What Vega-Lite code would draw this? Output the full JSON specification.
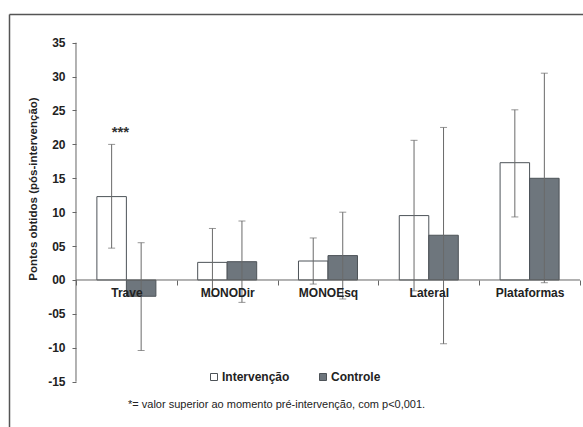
{
  "$schema": "https://vega.github.io/schema/vega-lite/v6.json",
  "width": 574,
  "height": 413,
  "autosize": {"type": "none"},
  "padding": {"left": 9, "top": 14, "right": 0, "bottom": 0},
  "config": {
    "view": {"stroke": null},
    "font": "Liberation Sans"
  },
  "resolve": {"axis": {"x": "independent", "y": "independent"}},
  "datasets": {
    "main": [
      {"cat": "Trave", "group": "Intervenção", "mean": 12.3, "lo": 4.7, "hi": 20.0},
      {"cat": "Trave", "group": "Controle", "mean": -2.4, "lo": -10.4, "hi": 5.5},
      {"cat": "MONODir", "group": "Intervenção", "mean": 2.6, "lo": -2.4, "hi": 7.6},
      {"cat": "MONODir", "group": "Controle", "mean": 2.7, "lo": -3.3, "hi": 8.7},
      {"cat": "MONOEsq", "group": "Intervenção", "mean": 2.8, "lo": -0.6, "hi": 6.2},
      {"cat": "MONOEsq", "group": "Controle", "mean": 3.6, "lo": -2.8, "hi": 10.0},
      {"cat": "Lateral", "group": "Intervenção", "mean": 9.5, "lo": -1.6, "hi": 20.6},
      {"cat": "Lateral", "group": "Controle", "mean": 6.6, "lo": -9.4, "hi": 22.5},
      {"cat": "Plataformas", "group": "Intervenção", "mean": 17.3, "lo": 9.3, "hi": 25.1},
      {"cat": "Plataformas", "group": "Controle", "mean": 15.0, "lo": -0.4, "hi": 30.5}
    ],
    "marks": [
      {"cat": "Trave", "group": "Intervenção", "hi": 20.0, "label": "***"}
    ]
  },
  "data": {"name": "main"},
  "title": {
    "text": "*= valor superior ao momento pré-intervenção, com p<0,001.",
    "orient": "bottom",
    "anchor": "start",
    "frame": "group",
    "offset": -22,
    "dx": 119,
    "baseline": "middle",
    "fontSize": 11,
    "fontWeight": "normal",
    "color": "#222222"
  },
  "layer": [
    {
      "mark": {"type": "bar", "stroke": "#4d5358", "strokeWidth": 1},
      "encoding": {
        "x": {
          "field": "cat",
          "type": "nominal",
          "sort": ["Trave", "MONODir", "MONOEsq", "Lateral", "Plataformas"],
          "scale": {
            "domain": ["Trave", "MONODir", "MONOEsq", "Lateral", "Plataformas"],
            "paddingInner": 0,
            "paddingOuter": 0.3472,
            "align": 0.957
          },
          "axis": {
            "orient": "bottom",
            "offset": -147,
            "zindex": 2,
            "title": null,
            "domain": false,
            "ticks": true,
            "tickBand": "extent",
            "tickSize": 5,
            "tickColor": "#666666",
            "labelAngle": 0,
            "labelPadding": 2,
            "labelFontSize": 12,
            "labelFontWeight": "bold",
            "labelColor": "#222222"
          }
        },
        "xOffset": {
          "field": "group",
          "type": "nominal",
          "sort": ["Intervenção", "Controle"],
          "scale": {"domain": ["Intervenção", "Controle"], "paddingInner": 0, "paddingOuter": 0.708}
        },
        "y": {
          "field": "mean",
          "type": "quantitative",
          "scale": {"domain": [-21.68, 39.23], "nice": false, "zero": false},
          "axis": {
            "orient": "left",
            "offset": -67,
            "domain": false,
            "grid": false,
            "values": [-15, -10, -5, 0, 5, 10, 15, 20, 25, 30, 35],
            "labelExpr": "datum.value == 0 ? '00' : datum.value == 5 ? '05' : datum.value == -5 ? '-05' : '' + datum.value",
            "tickSize": 4,
            "tickColor": "#666666",
            "labelPadding": 7,
            "labelFontSize": 12,
            "labelFontWeight": "bold",
            "labelColor": "#222222",
            "title": "Pontos obtidos (pós-intervenção)",
            "titleFontSize": 11.5,
            "titleFontWeight": "bold",
            "titleColor": "#222222",
            "titleX": -38,
            "titleY": 174.5,
            "titleAlign": "center",
            "titleAngle": -90,
            "titleBaseline": "bottom"
          }
        },
        "y2": {"datum": 0},
        "fill": {
          "field": "group",
          "type": "nominal",
          "scale": {"domain": ["Intervenção", "Controle"], "range": ["#ffffff", "#6e767d"]},
          "legend": {
            "title": null,
            "orient": "none",
            "direction": "horizontal",
            "legendX": 199,
            "legendY": 357,
            "symbolType": "square",
            "symbolSize": 49,
            "symbolStrokeColor": "#4d5358",
            "symbolStrokeWidth": 1,
            "labelFontSize": 12,
            "labelFontWeight": "bold",
            "labelColor": "#222222",
            "labelOffset": 2,
            "columnPadding": 27
          }
        }
      }
    },
    {
      "mark": {"type": "rule", "color": "#6a6a6a", "strokeWidth": 1},
      "encoding": {
        "x": {"field": "cat", "type": "nominal", "axis": null},
        "xOffset": {"field": "group", "type": "nominal"},
        "y": {"field": "lo", "type": "quantitative", "axis": null},
        "y2": {"field": "hi"}
      }
    },
    {
      "mark": {"type": "tick", "orient": "horizontal", "color": "#6a6a6a", "size": 7, "thickness": 1},
      "encoding": {
        "x": {"field": "cat", "type": "nominal", "axis": null},
        "xOffset": {"field": "group", "type": "nominal"},
        "y": {"field": "lo", "type": "quantitative", "axis": null}
      }
    },
    {
      "mark": {"type": "tick", "orient": "horizontal", "color": "#6a6a6a", "size": 7, "thickness": 1},
      "encoding": {
        "x": {"field": "cat", "type": "nominal", "axis": null},
        "xOffset": {"field": "group", "type": "nominal"},
        "y": {"field": "hi", "type": "quantitative", "axis": null}
      }
    },
    {
      "data": {"values": [{}]},
      "mark": {"type": "rule", "color": "#666666", "strokeWidth": 1},
      "encoding": {
        "x": {
          "datum": "Trave",
          "type": "nominal",
          "bandPosition": 0,
          "axis": {
            "orient": "top",
            "domain": true,
            "domainColor": "#555555",
            "domainWidth": 1.5,
            "ticks": false,
            "labels": false,
            "grid": false,
            "title": null
          }
        },
        "x2": {"datum": "Plataformas", "bandPosition": 1},
        "y": {"datum": 0, "type": "quantitative", "axis": null}
      }
    },
    {
      "data": {"values": [{}]},
      "mark": {"type": "rule", "color": "#666666", "strokeWidth": 1},
      "encoding": {
        "x": {"datum": "Trave", "type": "nominal", "bandPosition": 0, "axis": null},
        "y": {
          "datum": -15,
          "type": "quantitative",
          "axis": {
            "orient": "left",
            "offset": 0,
            "domain": true,
            "domainColor": "#555555",
            "domainWidth": 1.5,
            "ticks": false,
            "labels": false,
            "grid": false,
            "title": null
          }
        },
        "y2": {"datum": 35}
      }
    },
    {
      "data": {"name": "marks"},
      "mark": {"type": "text", "align": "left", "dx": 0, "dy": -12, "fontSize": 15, "fontWeight": "bold", "color": "#333333"},
      "encoding": {
        "x": {"field": "cat", "type": "nominal", "axis": null},
        "xOffset": {"field": "group", "type": "nominal"},
        "y": {"field": "hi", "type": "quantitative", "axis": null},
        "text": {"field": "label"}
      }
    }
  ]
}
